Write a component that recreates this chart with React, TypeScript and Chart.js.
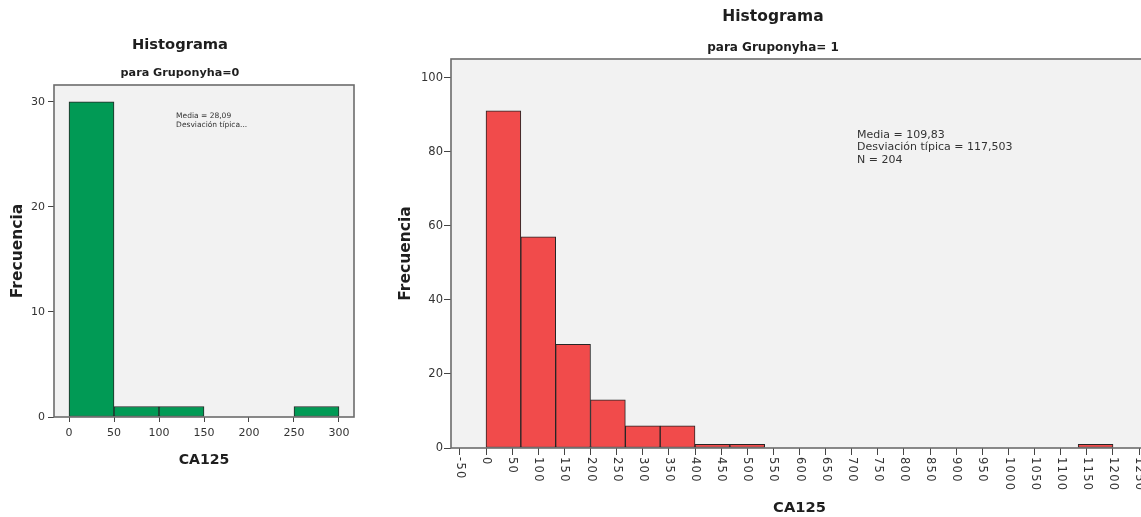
import React, { useEffect, useRef } from 'react';
import { Chart, registerables } from 'chart.js';

Chart.register(...registerables);

const FAMILY = '"DejaVu Sans", "Liberation Sans", sans-serif';

// ---------- CA125, Gruponyha = 0 ----------
const leftBinEdges = [0, 50, 100, 150, 200, 250, 300];
const leftCounts = [30, 1, 1, 0, 0, 1];
const leftXTicks = [0, 50, 100, 150, 200, 250, 300];
const leftYTicks = [0, 10, 20, 30];
const leftStats = ['Media = 28,09', 'Desviación típica...'];

// ---------- CA125, Gruponyha = 1 ----------
const rightBinEdges = [0, 66.67, 133.33, 200, 266.67, 333.33, 400, 466.67, 533.33, 600, 666.67, 733.33, 800, 866.67, 933.33, 1000, 1066.67, 1133.33, 1200];
const rightCounts = [91, 57, 28, 13, 6, 6, 1, 1, 0, 0, 0, 0, 0, 0, 0, 0, 0, 1];
const rightXTicks = [-50, 0, 50, 100, 150, 200, 250, 300, 350, 400, 450, 500, 550, 600, 650, 700, 750, 800, 850, 900, 950, 1000, 1050, 1100, 1150, 1200, 1250];
const rightYTicks = [0, 20, 40, 60, 80, 100];
const rightStats = ['Media = 109,83', 'Desviación típica = 117,503', 'N = 204'];

type Spec = {
  edges: number[];
  counts: number[];
  xTicks: number[];
  yTicks: number[];
  stats: string[];
  barColor: string;
  xMin: number; xMax: number; yMax: number;
  padding: { left: number; right: number; top: number; bottom: number };
  yWidth: number; xHeight: number;
  title: { size: number; top: number };
  subtitle: { text: string; size: number; top: number; bottom: number };
  yTitle: { size: number; top: number };
  xTitle: { size: number; bottom: number };
  yTickFont: number; yTickLen: number; yTickPad: number;
  xTickFont: number; xTickLen: number; xTickPad: number;
  rotated: boolean; rotOffset: number; rotSpacing: string;
  statsFont: number; statsLine: number; statsAt: [number, number];
};

function makePlugin(s: Spec) {
  return {
    id: 'histDecor',
    beforeDraw(chart: any) {
      const { ctx, chartArea: a } = chart;
      ctx.save();
      ctx.fillStyle = '#f2f2f2';
      ctx.fillRect(a.left, a.top, a.right - a.left, a.bottom - a.top);
      ctx.restore();
    },
    afterDraw(chart: any) {
      const { ctx, chartArea: a, scales } = chart;
      ctx.save();
      ctx.strokeStyle = '#6c6c6c';
      ctx.lineWidth = 1.6;
      ctx.strokeRect(a.left, a.top, a.right - a.left, a.bottom - a.top);
      if (s.rotated) {
        const sx = scales.x;
        ctx.save();
        ctx.fillStyle = '#333';
        ctx.font = `${s.xTickFont}px ${FAMILY}`;
        ctx.textAlign = 'left';
        ctx.textBaseline = 'middle';
        if ('letterSpacing' in ctx) (ctx as any).letterSpacing = s.rotSpacing;
        s.xTicks.forEach((v) => {
          const px = sx.getPixelForValue(v);
          ctx.save();
          ctx.translate(px, a.bottom + s.rotOffset);
          ctx.rotate(Math.PI / 2);
          ctx.fillText(String(v), 0, 0);
          ctx.restore();
        });
        ctx.restore();
      }
      ctx.fillStyle = '#333';
      ctx.font = `${s.statsFont}px ${FAMILY}`;
      ctx.textAlign = 'left';
      ctx.textBaseline = 'middle';
      const x0 = scales.x.getPixelForValue(s.statsAt[0]);
      const y0 = scales.y.getPixelForValue(s.statsAt[1]);
      s.stats.forEach((t, i) => ctx.fillText(t, x0, y0 + i * s.statsLine));
      ctx.restore();
    },
  };
}

function makeConfig(s: Spec): any {
  const points = s.counts.map((c, i) => ({ x: (s.edges[i] + s.edges[i + 1]) / 2, y: c }));
  return {
    type: 'bar',
    data: {
      datasets: [
        {
          data: points,
          xAxisID: 'bins',
          yAxisID: 'y',
          backgroundColor: s.barColor,
          borderColor: '#262626',
          borderWidth: 1,
          borderSkipped: false,
          barPercentage: 1,
          categoryPercentage: 1,
          grouped: false,
        },
      ],
    },
    options: {
      responsive: false,
      animation: false,
      events: [],
      layout: { padding: s.padding },
      plugins: {
        legend: { display: false },
        tooltip: { enabled: false },
        title: {
          display: true,
          text: 'Histograma',
          color: '#1e1e1e',
          font: { family: FAMILY, size: s.title.size, weight: 'bold', lineHeight: 1 },
          padding: { top: s.title.top, bottom: 0 },
        },
        subtitle: {
          display: true,
          text: s.subtitle.text,
          color: '#1e1e1e',
          font: { family: FAMILY, size: s.subtitle.size, weight: 'bold', lineHeight: 1 },
          padding: { top: s.subtitle.top, bottom: s.subtitle.bottom },
        },
      },
      scales: {
        bins: {
          type: 'linear',
          axis: 'x',
          position: 'bottom',
          display: false,
          offset: false,
          min: s.xMin,
          max: s.xMax,
          grid: { offset: false },
          afterBuildTicks: (sc: any) => {
            sc.ticks = s.edges.map((v) => ({ value: v }));
          },
        },
        x: {
          type: 'linear',
          axis: 'x',
          position: 'bottom',
          offset: false,
          min: s.xMin,
          max: s.xMax,
          afterBuildTicks: (sc: any) => {
            sc.ticks = s.xTicks.map((v) => ({ value: v }));
          },
          afterFit: (sc: any) => {
            sc.height = s.xHeight;
          },
          grid: {
            display: true,
            offset: false,
            drawOnChartArea: false,
            drawTicks: true,
            tickLength: s.xTickLen,
            color: '#444',
            lineWidth: 1,
          },
          border: { display: false },
          ticks: {
            display: !s.rotated,
            autoSkip: false,
            maxRotation: 0,
            minRotation: 0,
            padding: s.xTickPad,
            color: '#333',
            font: { family: FAMILY, size: s.xTickFont, lineHeight: 1 },
            callback: (v: any) => String(v),
          },
          title: {
            display: true,
            text: 'CA125',
            color: '#1e1e1e',
            font: { family: FAMILY, size: s.xTitle.size, weight: 'bold', lineHeight: 1 },
            padding: { top: 0, bottom: s.xTitle.bottom },
          },
        },
        y: {
          type: 'linear',
          position: 'left',
          min: 0,
          max: s.yMax,
          afterBuildTicks: (sc: any) => {
            sc.ticks = s.yTicks.map((v) => ({ value: v }));
          },
          afterFit: (sc: any) => {
            sc.width = s.yWidth;
          },
          grid: {
            display: true,
            drawOnChartArea: false,
            drawTicks: true,
            tickLength: s.yTickLen,
            color: '#444',
            lineWidth: 1,
          },
          border: { display: false },
          ticks: {
            autoSkip: false,
            padding: s.yTickPad,
            color: '#333',
            font: { family: FAMILY, size: s.yTickFont, lineHeight: 1 },
            callback: (v: any) => String(v),
          },
          title: {
            display: true,
            text: 'Frecuencia',
            color: '#1e1e1e',
            font: { family: FAMILY, size: s.yTitle.size, weight: 'bold', lineHeight: 1 },
            padding: { top: s.yTitle.top, bottom: 0 },
          },
        },
      },
    },
    plugins: [makePlugin(s)],
  };
}

const leftSpec: Spec = {
  edges: leftBinEdges,
  counts: leftCounts,
  xTicks: leftXTicks,
  yTicks: leftYTicks,
  stats: leftStats,
  barColor: '#019a55',
  xMin: -16.67, xMax: 316.67, yMax: 31.6,
  padding: { left: 6, right: 6, top: 0, bottom: 40 },
  yWidth: 48, xHeight: 60,
  title: { size: 14.7, top: 37.65 },
  subtitle: { text: 'para Gruponyha=0', size: 11.2, top: 15.05, bottom: 6.4 },
  yTitle: { size: 15.5, top: 4.25 },
  xTitle: { size: 14.1, bottom: 9.25 },
  yTickFont: 11, yTickLen: 6, yTickPad: 3,
  xTickFont: 11, xTickLen: 5, xTickPad: 5.5,
  rotated: false, rotOffset: 0, rotSpacing: '0px',
  statsFont: 7.5, statsLine: 8.5, statsAt: [119, 28.6],
};

const rightSpec: Spec = {
  edges: rightBinEdges,
  counts: rightCounts,
  xTicks: rightXTicks,
  yTicks: rightYTicks,
  stats: rightStats,
  barColor: '#f14b4b',
  xMin: -67, xMax: 1267, yMax: 105,
  padding: { left: 0, right: 12, top: 0, bottom: 0 },
  yWidth: 53, xHeight: 69,
  title: { size: 15.5, top: 9.25 },
  subtitle: { text: 'para Gruponyha= 1', size: 12, top: 17.25, bottom: 5 },
  yTitle: { size: 15.5, top: 0.25 },
  xTitle: { size: 14.7, bottom: 1.65 },
  yTickFont: 11.5, yTickLen: 7, yTickPad: 1,
  xTickFont: 11.5, xTickLen: 7, xTickPad: 2,
  rotated: true, rotOffset: 9, rotSpacing: '1.3px',
  statsFont: 11, statsLine: 12.5, statsAt: [710, 84.5],
};

function Histogram({ spec, left, width }: { spec: Spec; left: number; width: number }) {
  const ref = useRef<HTMLCanvasElement | null>(null);
  useEffect(() => {
    if (!ref.current) return;
    const chart = new Chart(ref.current, makeConfig(spec));
    return () => chart.destroy();
  }, [spec]);
  return (
    <canvas
      ref={ref}
      width={width}
      height={517}
      style={{ position: 'absolute', left, top: 0, width, height: 517, display: 'block' }}
    />
  );
}

export default function App() {
  return (
    <div
      style={{
        position: 'fixed',
        left: 0,
        top: 0,
        width: 1141,
        height: 517,
        overflow: 'hidden',
        background: '#ffffff',
      }}
    >
      <Histogram spec={leftSpec} left={0} width={360} />
      <Histogram spec={rightSpec} left={398} width={762} />
    </div>
  );
}
